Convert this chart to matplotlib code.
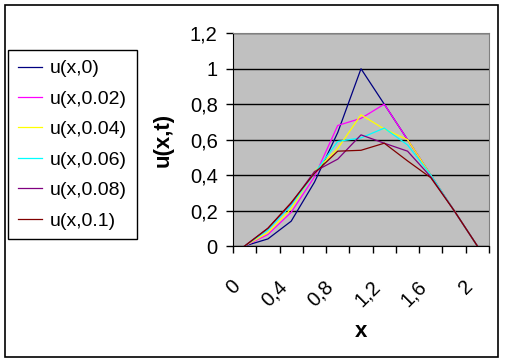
import numpy as np
import matplotlib
matplotlib.use("Agg")
import matplotlib.pyplot as plt
import matplotlib.transforms as mtransforms
from matplotlib.patches import Rectangle

plt.rcParams['font.family'] = ['Liberation Sans', 'DejaVu Sans']

# categories (x) and series
x_vals = [0, 0.2, 0.4, 0.6, 0.8, 1.0, 1.2, 1.4, 1.6, 1.8, 2.0]
u_0 = [0, 0.04, 0.14, 0.36, 0.64, 1.0, 0.8, 0.6, 0.4, 0.2, 0]
u_002 = [0, 0.065, 0.19, 0.39, 0.68, 0.72, 0.80, 0.60, 0.40, 0.20, 0]
u_004 = [0, 0.075, 0.21, 0.42, 0.55, 0.74, 0.66, 0.60, 0.40, 0.20, 0]
u_006 = [0, 0.09, 0.23, 0.41, 0.59, 0.61, 0.665, 0.57, 0.40, 0.20, 0]
u_008 = [0, 0.10, 0.24, 0.42, 0.49, 0.627, 0.58, 0.535, 0.39, 0.20, 0]
u_01 = [0, 0.10, 0.245, 0.41, 0.535, 0.54, 0.58, 0.48, 0.385, 0.20, 0]

labels = ['u(x,0)', 'u(x,0.02)', 'u(x,0.04)', 'u(x,0.06)', 'u(x,0.08)', 'u(x,0.1)']
series = [u_0, u_002, u_004, u_006, u_008, u_01]
colors = ['#000080', '#FF00FF', '#FFFF00', '#00FFFF', '#800080', '#800000']

yticks = [0, 0.2, 0.4, 0.6, 0.8, 1.0, 1.2]
ytick_labels = ['0', '0,2', '0,4', '0,6', '0,8', '1', '1,2']
xlabel_idx = [0, 2, 4, 6, 8, 10]
xtick_labels = ['0', '0,4', '0,8', '1,2', '1,6', '2']

fig = plt.figure(figsize=(5.05, 3.64), dpi=100)
ax = fig.add_axes([233/505, 1-246/364, (489-233)/505, (246-33.3)/364])
ax.set_facecolor('#C0C0C0')

pos = np.arange(len(x_vals))
lines = []
for s, c, l in zip(series, colors, labels):
    ln, = ax.plot(pos, s, color=c, lw=0.9, label=l)
    lines.append(ln)

ax.set_xlim(-0.5, len(x_vals) - 0.5)
ax.set_ylim(0, 1.2)
ax.set_yticks(yticks)
ax.set_yticklabels(ytick_labels, fontsize=14.5)
ax.yaxis.grid(True, color='black', lw=1)
ax.set_axisbelow(True)

# tick marks at category borders, labels at every other category
ax.set_xticks(np.arange(-0.5, len(x_vals), 1.0))
ax.set_xticklabels([])
ax.set_xticks(xlabel_idx, minor=True)
ax.set_xticklabels(xtick_labels, minor=True, fontsize=14.5, rotation=45,
                   ha='right', va='top', rotation_mode='anchor')
ax.tick_params(axis='x', which='minor', length=0, pad=22)
ax.tick_params(axis='both', which='major', length=5, width=1, direction='out', color='black')
ax.tick_params(axis='y', pad=6)
off = mtransforms.ScaledTranslation(-14/100, 0, fig.dpi_scale_trans)
for t in ax.xaxis.get_minorticklabels():
    t.set_transform(t.get_transform() + off)

for side in ['top', 'right']:
    ax.spines[side].set_color('#808080')
for side in ['left', 'bottom']:
    ax.spines[side].set_color('black')

ax.set_ylabel('u(x,t)', fontsize=16, fontweight='bold', labelpad=12)
ax.set_xlabel('x', fontsize=16, fontweight='bold', labelpad=8)

leg = fig.legend(handles=lines, loc='upper left', bbox_to_anchor=(8/505, 1-50/364),
                 bbox_transform=fig.transFigure, fontsize=14, frameon=True,
                 fancybox=False, edgecolor='black', framealpha=1, borderaxespad=0,
                 handlelength=1.25, handletextpad=0.4, labelspacing=0.66, borderpad=0.5)
leg.get_frame().set_linewidth(1)

fig.patches.append(Rectangle((5/505, 1-357/364), 493/505, 352/364, transform=fig.transFigure,
                             fill=False, edgecolor='black', lw=1.2))

fig.savefig('out.png', dpi=100)
